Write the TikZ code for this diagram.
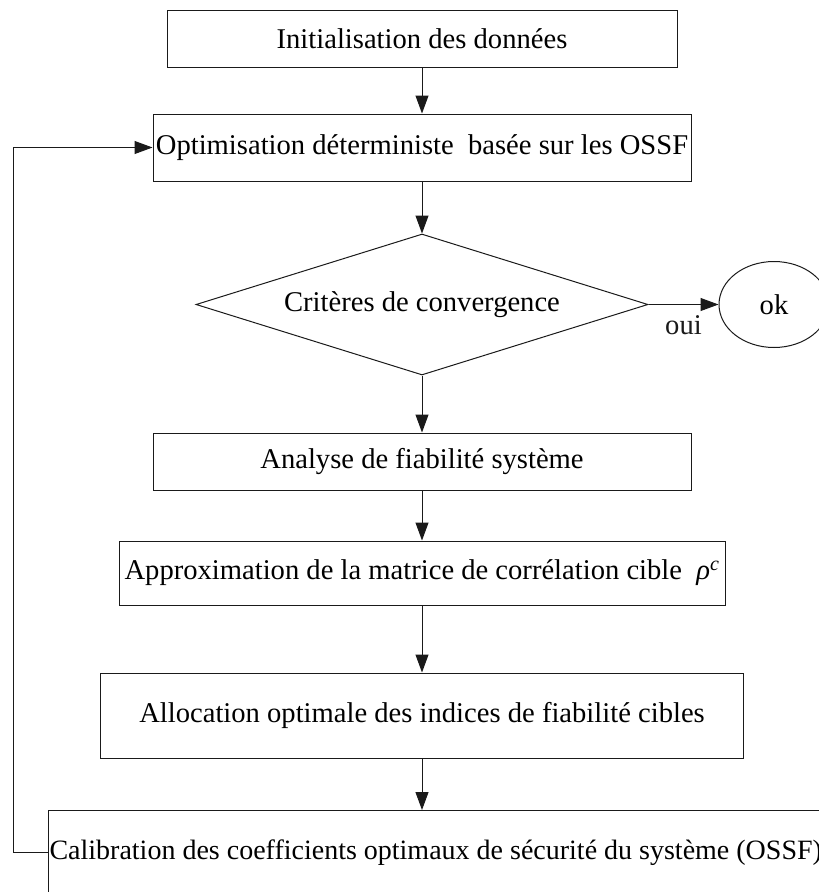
\documentclass[tikz,border=0pt]{standalone}
\usepackage{fontspec}
\setmainfont{Liberation Serif}
\usetikzlibrary{shapes.geometric, arrows.meta, positioning}
\definecolor{pfLine}{HTML}{1A1A1A}
\tikzset{
  pfbox/.style={rectangle, draw=pfLine, line width=1pt, fill=white,
    inner sep=2pt, align=center, font=\fontsize{28.6}{34}\selectfont},
  pftest/.style={diamond, aspect=3.2, draw=pfLine, line width=1pt, fill=white,
    inner sep=0pt, align=center, font=\fontsize{28.6}{34}\selectfont},
  pfend/.style={ellipse, draw=pfLine, line width=1pt, fill=white,
    inner sep=0pt, font=\fontsize{28.6}{34}\selectfont},
  pflabel/.style={font=\fontsize{28.6}{34}\selectfont, inner sep=2pt},
  pfarrow/.style={-{Triangle[length=18pt, width=13pt]}, line width=1pt, pfLine}
}

\begin{document}
\begin{tikzpicture}[x=1pt, y=-1pt, node distance=50pt]
  \useasboundingbox (0,0) rectangle (819,892);
  \clip (0,0) rectangle (819,892);
  \node[pfbox, minimum width=510pt, minimum height=57pt] (init) at (422,38.5) {Initialisation des données};
  \node[pfbox, minimum width=538pt, minimum height=67pt, below=46pt of init] (optim) {Optimisation déterministe~ basée sur les OSSF};
  \node[pftest, minimum width=452pt, minimum height=141pt, below=52pt of optim] (crit) {Critères de convergence};
  \node[pfend, minimum width=110pt, minimum height=86pt, right=70pt of crit] (ok) {ok};
  \node[pfbox, minimum width=538pt, minimum height=57pt, below=57pt of crit] (analyse) {Analyse de fiabilité système};
  \node[pfbox, minimum width=606pt, minimum height=64pt, below=50pt of analyse] (approx) {Approximation de la matrice de corrélation cible~ \textit{ρ}\textsuperscript{\textit{c}}};
  \node[pfbox, minimum width=643pt, minimum height=85pt, below=67pt of approx] (alloc) {Allocation optimale des indices de fiabilité cibles};
  \node[pfbox, anchor=north west, minimum height=84pt, text width=990pt, inner xsep=1pt, align=left,
    font=\fontsize{28}{34}\selectfont] (calib) at (48,810) {\spaceskip=0pt\xspaceskip=0pt\relax Calibration des coefficients optimaux de sécurité du système (OSSF)};
  % liens
  \draw[pfarrow] (init) -- (optim);
  \draw[pfarrow] (optim) -- (crit);
  \draw[pfarrow] (crit) -- node[pflabel, below=9pt] {oui} (ok);
  \draw[pfarrow] (crit) -- (analyse);
  \draw[pfarrow] (analyse) -- (approx);
  \draw[pfarrow] (approx) -- (alloc);
  \draw[pfarrow] (alloc) -- (alloc |- calib.north);
  \draw[pfarrow] (calib.west) -- ++(-34.5,0) |- (optim.west);
\end{tikzpicture}
\end{document}
